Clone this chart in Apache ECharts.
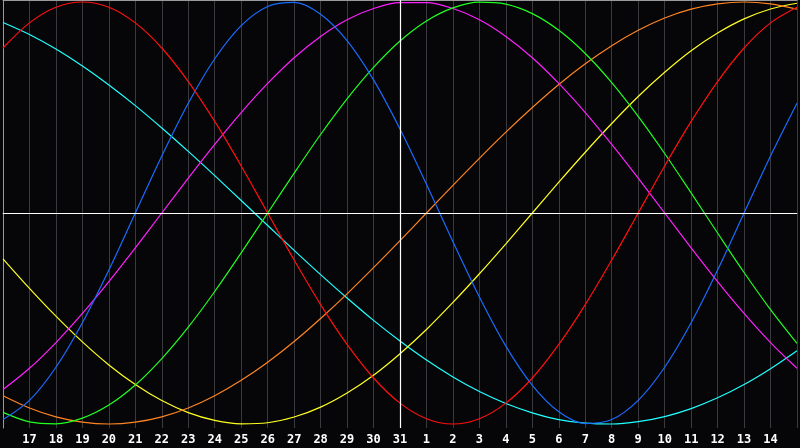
<!DOCTYPE html>
<html>
<head>
<meta charset="utf-8">
<script src="https://cdn.jsdelivr.net/npm/echarts@6/dist/echarts.min.js"></script>
<style>
html,body{margin:0;padding:0;background:#060609;}
#c{width:800px;height:448px;}
</style>
</head>
<body>
<div id="c"></div>
<script>
// Days shown (16th of the month through 15th of the next one)
const days = ['16','17','18','19','20','21','22','23','24','25','26','27','28','29','30','31',
  '1','2','3','4','5','6','7','8','9','10','11','12','13','14','15'];
const todayIndex = 15; // day 31

// Cycle values (-1 .. 1)
const red = [0.782,0.901,0.975,1,0.975,0.901,0.782,0.623,0.434,0.223,0,-0.223,-0.434,-0.623,-0.782,-0.901,-0.975,-1,-0.975,-0.901,-0.782,-0.623,-0.434,-0.223,0,0.223,0.434,0.623,0.782,0.901,0.975];
const blue = [-0.979,-0.888,-0.731,-0.520,-0.270,0,0.270,0.520,0.731,0.888,0.979,0.998,0.942,0.817,0.631,0.398,0.136,-0.136,-0.398,-0.631,-0.817,-0.942,-0.998,-0.979,-0.888,-0.731,-0.520,-0.270,0,0.270,0.520];
const green = [-0.945,-0.990,-0.999,-0.972,-0.910,-0.815,-0.690,-0.541,-0.372,-0.189,0,0.189,0.372,0.541,0.690,0.815,0.910,0.972,0.999,0.990,0.945,0.866,0.756,0.618,0.458,0.282,0.095,-0.095,-0.282,-0.458,-0.618];
const magenta = [-0.837,-0.736,-0.614,-0.476,-0.325,-0.165,0,0.165,0.325,0.476,0.614,0.736,0.837,0.916,0.969,0.997,0.997,0.969,0.916,0.837,0.736,0.614,0.476,0.325,0.165,0,-0.165,-0.325,-0.476,-0.614,-0.736];
const yellow = [-0.217,-0.357,-0.489,-0.611,-0.720,-0.813,-0.889,-0.946,-0.983,-0.999,-0.994,-0.967,-0.920,-0.853,-0.769,-0.667,-0.552,-0.424,-0.288,-0.146,0,0.146,0.288,0.424,0.552,0.667,0.769,0.853,0.920,0.967,0.994];
const orange = [-0.866,-0.924,-0.966,-0.991,-1,-0.991,-0.966,-0.924,-0.866,-0.793,-0.707,-0.609,-0.5,-0.383,-0.259,-0.131,0,0.131,0.259,0.383,0.5,0.609,0.707,0.793,0.866,0.924,0.966,0.991,1,0.991,0.966];
const cyan = [0.903,0.846,0.777,0.697,0.607,0.509,0.403,0.292,0.177,0.059,-0.059,-0.177,-0.292,-0.403,-0.509,-0.607,-0.697,-0.777,-0.846,-0.903,-0.947,-0.979,-0.996,-1,-0.989,-0.965,-0.927,-0.876,-0.813,-0.738,-0.653];

const seriesDefs = [
  {name:'cyan', data:cyan, color:'#20ffff'},
  {name:'yellow', data:yellow, color:'#ffff20'},
  {name:'orange', data:orange, color:'#ff8420'},
  {name:'magenta', data:magenta, color:'#ff20ff'},
  {name:'green', data:green, color:'#20ff20'},
  {name:'blue', data:blue, color:'#1a6cff'},
  {name:'red', data:red, color:'#ff1010'}
];

const chart = echarts.init(document.getElementById('c'), null, {renderer:'canvas'});
const series = seriesDefs.map(s => ({
  name: s.name, type:'line', data:s.data, smooth:0.33, symbol:'none',
  lineStyle:{color:s.color, width:1.2}, itemStyle:{color:s.color}, z:3
}));
series.push({
  type:'line', data:[], silent:true, z:2,
  markLine:{
    silent:true, symbol:'none', label:{show:false}, animation:false,
    lineStyle:{color:'#ffffff', width:1.2, type:'solid'},
    data:[{xAxis: todayIndex}, {yAxis: 0}]
  }
});

chart.setOption({
  backgroundColor:'#060609',
  animation:false,
  grid:{left:0, right:0, top:0, bottom:20, containLabel:false},
  xAxis:[{
    type:'category', data:days, boundaryGap:false,
    axisLine:{show:true, lineStyle:{color:'#9a9a9a', width:1}},
    axisTick:{show:false},
    axisLabel:{
      color:'#ffffff', fontFamily:'DejaVu Sans Mono', fontWeight:'bold', fontSize:12, margin:6,
      interval:0, showMinLabel:false, showMaxLabel:false,
      formatter:(v,i)=> (i===0||i===days.length-1)?'':v
    },
    splitLine:{show:true, interval:0, lineStyle:{color:'#3a3a3e', width:1}}
  },{
    type:'category', data:days, boundaryGap:false, position:'top',
    axisLine:{show:true, lineStyle:{color:'#9a9a9a', width:1}},
    axisTick:{show:false}, axisLabel:{show:false}, splitLine:{show:false}
  }],
  yAxis:{
    type:'value', min:-1.019, max:1.0095,
    axisLine:{show:true, lineStyle:{color:'#9a9a9a', width:1}},
    axisTick:{show:false}, axisLabel:{show:false}, splitLine:{show:false}
  },
  series: series
});
</script>
</body>
</html>
